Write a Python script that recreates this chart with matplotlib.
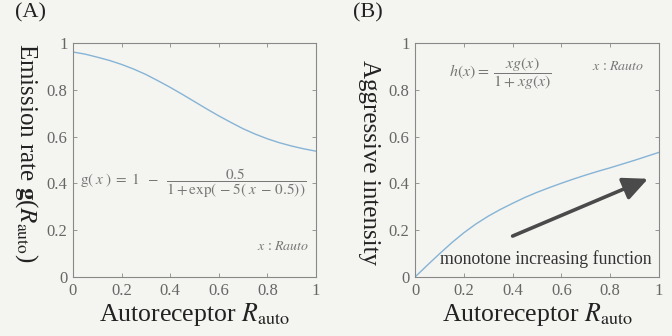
import matplotlib
matplotlib.use("Agg")
import matplotlib.pyplot as plt

# Data
x_vals = [0.0, 0.05, 0.1, 0.15, 0.2, 0.25, 0.3, 0.35, 0.4, 0.45, 0.5,
          0.55, 0.6, 0.65, 0.7, 0.75, 0.8, 0.85, 0.9, 0.95, 1.0]
emission = [0.962, 0.953, 0.94, 0.926, 0.909, 0.889, 0.866, 0.839, 0.811, 0.781, 0.75,
            0.719, 0.689, 0.661, 0.634, 0.611, 0.591, 0.574, 0.56, 0.548, 0.538]
aggressive = [0.0, 0.05, 0.099, 0.146, 0.189, 0.227, 0.26, 0.289, 0.315, 0.34, 0.362,
              0.382, 0.401, 0.419, 0.436, 0.452, 0.467, 0.483, 0.499, 0.516, 0.533]
ticks = [0, 0.2, 0.4, 0.6, 0.8, 1]
tick_labels = ["0", "0.2", "0.4", "0.6", "0.8", "1"]
arrow_start = (0.40, 0.175)
arrow_end = (0.955, 0.42)

plt.rcParams['font.family'] = ['Liberation Serif', 'DejaVu Serif']
plt.rcParams['mathtext.fontset'] = 'stix'

bg = '#f4f4f0'
line_c = '#86b4d6'
tick_c = '#666666'
label_c = '#222222'

fig = plt.figure(figsize=(6.72, 3.36), dpi=100, facecolor=bg)
axA = fig.add_axes([0.1086, 0.1756, 0.3616, 0.696])
axB = fig.add_axes([0.6176, 0.1756, 0.363, 0.696])

for ax in (axA, axB):
    ax.set_facecolor(bg)
    ax.set_xlim(0, 1)
    ax.set_ylim(0, 1)
    ax.set_xticks(ticks)
    ax.set_yticks(ticks)
    ax.set_xticklabels(tick_labels)
    ax.set_yticklabels(tick_labels)
    ax.tick_params(direction='in', top=True, right=True, length=3, width=0.6,
                   colors='#888888', labelcolor=tick_c, labelsize=12, pad=4)
    for s in ax.spines.values():
        s.set_color('#888888')
        s.set_linewidth(0.8)
    ax.set_xlabel(r'Autoreceptor $R_{\mathrm{auto}}$', fontsize=18.5, color=label_c, labelpad=2)

axA.plot(x_vals, emission, color=line_c, lw=1.0)
axB.plot(x_vals, aggressive, color=line_c, lw=1.0)

fig.text(0.040, 0.545, r'Emission rate $\mathbf{g}$($R_{\mathrm{auto}}$)', fontsize=18,
         color=label_c, rotation=270, ha='center', va='center')
fig.text(0.549, 0.515, 'Aggressive intensity', fontsize=18, color=label_c,
         rotation=270, ha='center', va='center')

fig.text(0.022, 0.99, '(A)', fontsize=16, va='top', ha='left', color=label_c)
fig.text(0.525, 0.99, '(B)', fontsize=16, va='top', ha='left', color=label_c)

eq_c = '#777777'
axA.text(0.03, 0.4, r'$\mathrm{g}(\;x\;)\; = \;1\;\; - \;\;\dfrac{0.5}{1 + \exp(\,-5(\;x\; - \,0.5))}$',
         fontsize=11, color=eq_c, va='center', ha='left')
axA.text(0.97, 0.13, r'$x$ : $Rauto$', fontsize=10, color=eq_c, ha='right', va='center')

axB.text(0.14, 0.87, r'$h(x) = \;\dfrac{xg(x)}{1 + xg(x)}$', fontsize=11.5, color=eq_c,
         va='center', ha='left')
axB.text(0.94, 0.9, r'$x$ : $Rauto$', fontsize=10, color=eq_c, ha='right', va='center')
axB.text(0.537, 0.075, 'monotone increasing function', fontsize=12.8, color='#333333',
         ha='center', va='center')
axB.annotate('', xy=arrow_end, xytext=arrow_start,
             arrowprops=dict(arrowstyle='-|>,head_length=1.5,head_width=0.7',
                             color='#4a4a4a', lw=2.6, shrinkA=0, shrinkB=0))

fig.savefig('out.png', dpi=100, facecolor=bg)
